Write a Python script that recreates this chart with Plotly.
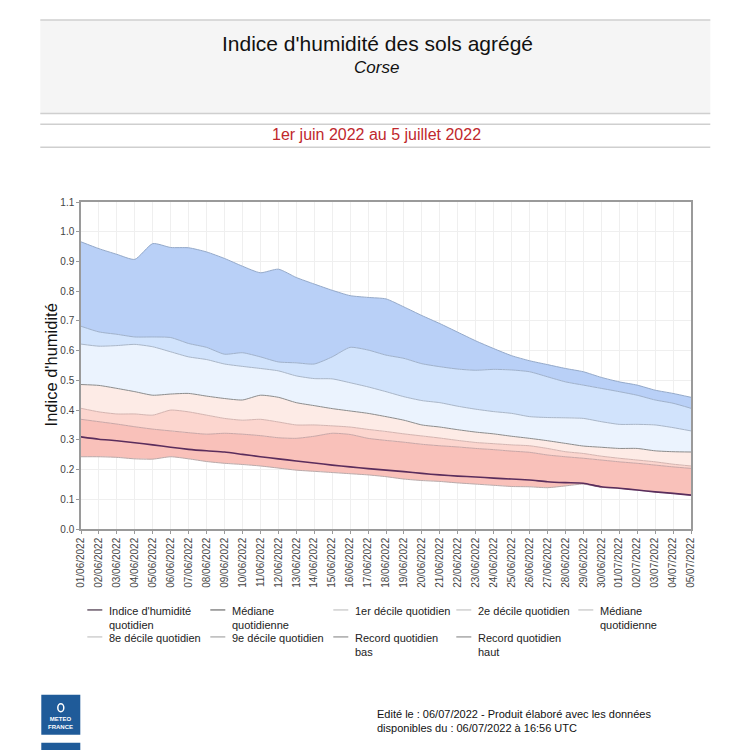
import plotly.graph_objects as go

dates = ["01/06/2022", "02/06/2022", "03/06/2022", "04/06/2022", "05/06/2022", "06/06/2022",
         "07/06/2022", "08/06/2022", "09/06/2022", "10/06/2022", "11/06/2022", "12/06/2022",
         "13/06/2022", "14/06/2022", "15/06/2022", "16/06/2022", "17/06/2022", "18/06/2022",
         "19/06/2022", "20/06/2022", "21/06/2022", "22/06/2022", "23/06/2022", "24/06/2022",
         "25/06/2022", "26/06/2022", "27/06/2022", "28/06/2022", "29/06/2022", "30/06/2022",
         "01/07/2022", "02/07/2022", "03/07/2022", "04/07/2022", "05/07/2022"]

record_haut = [0.966, 0.943, 0.924, 0.907, 0.960, 0.947, 0.946, 0.932, 0.910, 0.884, 0.862, 0.874,
               0.846, 0.824, 0.803, 0.785, 0.779, 0.774, 0.747, 0.718, 0.691, 0.662, 0.633, 0.607,
               0.583, 0.566, 0.553, 0.540, 0.529, 0.510, 0.495, 0.484, 0.467, 0.456, 0.443]
decile9 = [0.682, 0.663, 0.655, 0.646, 0.646, 0.644, 0.624, 0.611, 0.588, 0.593, 0.579, 0.562,
           0.559, 0.555, 0.579, 0.611, 0.602, 0.585, 0.574, 0.556, 0.546, 0.538, 0.534, 0.537,
           0.535, 0.529, 0.512, 0.495, 0.484, 0.473, 0.462, 0.450, 0.434, 0.423, 0.406]
decile8 = [0.622, 0.615, 0.617, 0.621, 0.613, 0.596, 0.579, 0.570, 0.555, 0.547, 0.540, 0.532,
           0.515, 0.506, 0.505, 0.492, 0.478, 0.462, 0.445, 0.432, 0.425, 0.413, 0.403, 0.395,
           0.389, 0.378, 0.375, 0.374, 0.372, 0.361, 0.352, 0.352, 0.350, 0.341, 0.330]
mediane = [0.486, 0.483, 0.473, 0.462, 0.450, 0.454, 0.456, 0.447, 0.439, 0.434, 0.450, 0.443,
           0.425, 0.415, 0.405, 0.397, 0.389, 0.378, 0.366, 0.350, 0.343, 0.334, 0.326, 0.320,
           0.312, 0.305, 0.297, 0.288, 0.279, 0.275, 0.271, 0.271, 0.263, 0.260, 0.259]
decile2 = [0.406, 0.394, 0.387, 0.387, 0.383, 0.400, 0.394, 0.383, 0.372, 0.366, 0.369, 0.360,
           0.350, 0.350, 0.347, 0.343, 0.335, 0.328, 0.320, 0.313, 0.306, 0.298, 0.291, 0.287,
           0.283, 0.280, 0.271, 0.260, 0.254, 0.245, 0.238, 0.232, 0.226, 0.218, 0.212]
decile1 = [0.369, 0.361, 0.353, 0.344, 0.336, 0.330, 0.324, 0.319, 0.322, 0.319, 0.314, 0.307,
           0.305, 0.312, 0.322, 0.318, 0.305, 0.298, 0.292, 0.285, 0.280, 0.276, 0.271, 0.267,
           0.262, 0.258, 0.249, 0.243, 0.238, 0.232, 0.226, 0.221, 0.215, 0.209, 0.204]
record_bas = [0.243, 0.243, 0.241, 0.236, 0.235, 0.243, 0.236, 0.227, 0.221, 0.217, 0.212, 0.205,
              0.198, 0.194, 0.190, 0.186, 0.182, 0.176, 0.168, 0.163, 0.160, 0.155, 0.151, 0.147,
              0.143, 0.142, 0.139, 0.145, 0.151, 0.140, 0.137, 0.131, 0.125, 0.120, 0.114]
indice = [0.310, 0.302, 0.297, 0.290, 0.283, 0.275, 0.268, 0.263, 0.259, 0.251, 0.243, 0.236,
          0.229, 0.222, 0.215, 0.209, 0.203, 0.198, 0.193, 0.187, 0.182, 0.178, 0.175, 0.171,
          0.168, 0.165, 0.159, 0.156, 0.154, 0.142, 0.137, 0.131, 0.125, 0.120, 0.114]

y_ticks = [0.0, 0.1, 0.2, 0.3, 0.4, 0.5, 0.6, 0.7, 0.8, 0.9, 1.0, 1.1]

legend_items = [
    ("Indice d'humidité<br>quotidien", "#6a5a6a"),
    ("Médiane<br>quotidienne", "#8a8a8a"),
    ("1er décile quotidien", "#d0d0d0"),
    ("2e décile quotidien", "#d0d0d0"),
    ("Médiane<br>quotidienne", "#d0d0d0"),
    ("8e décile quotidien", "#d0d0d0"),
    ("9e décile quotidien", "#b8b8b8"),
    ("Record quotidien<br>bas", "#a8a8a8"),
    ("Record quotidien<br>haut", "#a8a8a8"),
]

W, H = 750, 750
L, R, T, B = 80.7, 59.3, 201.7, 221.0
PW, PH = W - L - R, H - T - B


def px(x):
    return (x - L) / PW


def py(y):
    return (H - B - y) / PH


FONT = "Liberation Sans, Arial, sans-serif"
fig = go.Figure()

bands = [
    (record_bas, None, "#b9a9a9"),
    (decile1, "#f9c1ba", "#c9a6a6"),
    (decile2, "#fcd6cf", "#d4b4b0"),
    (mediane, "#fdebe6", "#8c8c8c"),
    (decile8, "#ebf3fe", "#a9b6c8"),
    (decile9, "#d1e3fc", "#9fb1cb"),
    (record_haut, "#b9d0f7", "#94a9c9"),
]
for vals, fillc, linec in bands:
    fig.add_trace(go.Scatter(
        x=dates, y=vals, mode="lines",
        line=dict(color=linec, width=1, shape="spline", smoothing=0.6),
        fill="tonexty" if fillc else None, fillcolor=fillc,
        showlegend=False, hoverinfo="skip"))

fig.add_trace(go.Scatter(
    x=dates, y=indice, mode="lines",
    line=dict(color="#5a2d5c", width=1.6, shape="spline", smoothing=0.6),
    showlegend=False))

fig.update_xaxes(
    type="category", range=[0, len(dates) - 1], tickangle=-90,
    showgrid=True, gridcolor="#efefef", gridwidth=1,
    showline=True, linecolor="#9a9a9a", linewidth=1.5, mirror=True,
    ticks="outside", ticklen=3, tickcolor="#9a9a9a",
    tickfont=dict(family=FONT, size=10, color="#444444"))
fig.update_yaxes(
    range=[0, 1.1], tickvals=y_ticks, ticktext=[f"{v:.1f}" for v in y_ticks],
    showgrid=True, gridcolor="#efefef", gridwidth=1, zeroline=False,
    showline=True, linecolor="#9a9a9a", linewidth=1.5, mirror=True,
    ticks="outside", ticklen=3, tickcolor="#9a9a9a",
    tickfont=dict(family=FONT, size=10, color="#444444"))

shapes = []
annotations = []


def note(text, x, y, size, color="#111111", xanchor="center", yanchor="middle", align="center", angle=0):
    annotations.append(dict(text=text, x=px(x), y=py(y), xref="paper", yref="paper",
                            xanchor=xanchor, yanchor=yanchor, align=align, showarrow=False,
                            textangle=angle, font=dict(family=FONT, size=size, color=color)))


# y-axis title
note("Indice d'humidité", 51, 365, 16.5, angle=-90)

# header box
shapes.append(dict(type="rect", xref="paper", yref="paper", x0=px(40), x1=px(710), y0=py(113), y1=py(19.5),
                   fillcolor="#f5f5f5", line=dict(width=0), layer="below"))
for yy in (19.5, 113, 124, 147):
    shapes.append(dict(type="line", xref="paper", yref="paper", x0=px(40), x1=px(710), y0=py(yy), y1=py(yy),
                       line=dict(color="#cfcfcf", width=1.5)))
note("Indice d'humidité des sols agrégé", 377, 43, 21)
note("<i>Corse</i>", 376, 67, 17)
note("1er juin 2022 au 5 juillet 2022", 376, 134, 16, color="#c0282d")

# legend
col_x = [87, 210, 333, 456, 578]
row_y = [610, 637]
for i, (label, col) in enumerate(legend_items):
    r, c = divmod(i, 5)
    x0 = col_x[c]
    y0 = row_y[r]
    shapes.append(dict(type="line", xref="paper", yref="paper", x0=px(x0), x1=px(x0 + 15), y0=py(y0), y1=py(y0),
                       line=dict(color=col, width=1.5)))
    note(label, x0 + 20, y0 - 7, 11, color="#222222", xanchor="left", yanchor="top", align="left")

# logo
shapes.append(dict(type="rect", xref="paper", yref="paper", x0=px(41), x1=px(80), y0=py(735), y1=py(695),
                   fillcolor="#1f5b99", line=dict(width=0)))
shapes.append(dict(type="rect", xref="paper", yref="paper", x0=px(41), x1=px(80), y0=py(760), y1=py(743),
                   fillcolor="#1f5b99", line=dict(width=0)))
shapes.append(dict(type="circle", xref="paper", yref="paper", x0=px(57.5), x1=px(63.5), y0=py(712), y1=py(704),
                   fillcolor="rgba(0,0,0,0)", line=dict(color="white", width=1.5)))
note("<b>METEO<br>FRANCE</b>", 60.5, 723, 6, color="white")

note("Edité le : 06/07/2022 - Produit élaboré avec les données<br>disponibles du : 06/07/2022 à 16:56 UTC",
     375, 706, 11, xanchor="left", yanchor="top", align="left")

fig.update_layout(
    width=W, height=H, margin=dict(l=L, r=R, t=T, b=B, pad=0),
    paper_bgcolor="white", plot_bgcolor="white",
    shapes=shapes, annotations=annotations, showlegend=False,
    font=dict(family=FONT))

fig.write_html("out.html", config={"displayModeBar": False},
               post_script="document.body.style.margin='0';")
